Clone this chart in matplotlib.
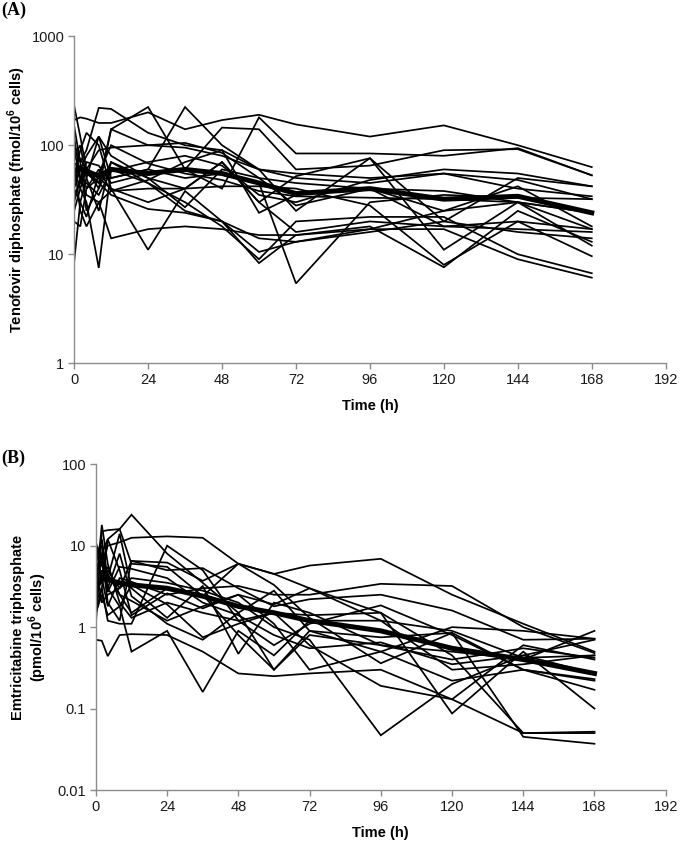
import numpy as np
import matplotlib
matplotlib.use("Agg")
import matplotlib.pyplot as plt

plt.rcParams['font.family'] = ['Liberation Sans', 'DejaVu Sans']
plt.rcParams['mathtext.fontset'] = 'custom'
plt.rcParams['mathtext.rm'] = 'Liberation Sans:bold'
plt.rcParams['mathtext.bf'] = 'Liberation Sans:bold'

# sampling times (h)
times = [0, 2, 4, 8, 12, 24, 36, 48, 60, 72, 96, 120, 144, 168]

# (A) tenofovir diphosphate, fmol/10^6 cells, one list per subject
tfv_subjects = [
    [230, 120, 60, 45, 140, 100, 95, 80, 60, 55, 50, 55, 40, 34],
    [170, 180, 175, 160, 160, 200, 140, 170, 190, 155, 120, 152, 100, 63],
    [8.5, 30, 50, 120, 80, 50, 40, 70, 30, 16, 20, 18, 17, 16],
    [60, 40, 30, 7.5, 60, 45, 25, 20, 14, 13, 16, 20, 16, 14],
    [100, 70, 90, 220, 215, 130, 100, 90, 60, 50, 45, 55, 48, 32],
    [50, 90, 130, 100, 40, 11, 38, 20, 8.3, 15, 18, 7.6, 25, 13],
    [40, 60, 80, 120, 50, 60, 224, 100, 60, 25, 76, 20, 50, 42],
    [30, 50, 60, 40, 140, 224, 60, 40, 180, 84, 84, 80, 94, 53],
    [70, 25, 18, 30, 14, 17, 18, 17, 15, 15, 17, 25, 30, 17],
    [25, 40, 60, 90, 95, 100, 105, 85, 50, 45, 40, 38, 30, 24],
    [20, 18, 40, 50, 40, 30, 40, 70, 30, 52, 76, 11, 30, 12],
    [45, 60, 55, 45, 35, 26, 24, 20, 10.5, 13, 17, 17, 9, 6.1],
    [80, 100, 50, 25, 70, 45, 30, 18, 9, 20, 22, 22, 10, 6.7],
    [55, 65, 40, 60, 38, 40, 40, 42, 42, 40, 28, 8, 20, 9.6],
    [120, 50, 45, 35, 58, 70, 80, 65, 35, 30, 48, 60, 55, 42],
    [65, 75, 60, 50, 50, 60, 50, 55, 45, 5.4, 30, 35, 33, 32],
    [35, 45, 70, 65, 45, 55, 60, 145, 140, 60, 65, 90, 92, 53],
    [90, 50, 35, 30, 38, 48, 70, 90, 24, 35, 40, 25, 42, 18],
    [150, 70, 25, 40, 70, 50, 27, 60, 50, 28, 40, 18, 20, 17],
    [40, 30, 22, 55, 100, 68, 55, 48, 38, 34, 33, 32, 30, 24],
]
tfv_mean = [55, 62, 58, 52, 60, 55, 60, 55, 45, 36, 40, 32, 34, 24]

# (B) emtricitabine triphosphate, pmol/10^6 cells
ftc_subjects = [
    [5, 8, 12, 16, 24, 8, 3.5, 1.5, 0.3, 0.9, 0.5, 0.22, 0.3, 0.23],
    [11, 6, 10, 11, 12.5, 13, 12.5, 6, 4.5, 5.7, 6.9, 2.5, 1.1, 0.5],
    [3, 18, 6, 2, 1.3, 2, 1.5, 1.2, 1.5, 0.6, 0.19, 0.13, 0.6, 0.4],
    [1.5, 3, 1.2, 1.1, 1.1, 10, 5, 1.2, 0.6, 1.1, 1.85, 0.8, 0.3, 0.22],
    [0.7, 0.68, 0.44, 0.8, 0.82, 0.8, 0.5, 0.27, 0.25, 0.27, 0.3, 0.13, 0.05, 0.052],
    [2, 5, 3, 1.8, 0.5, 0.9, 0.16, 0.9, 0.45, 1.2, 1.2, 0.9, 0.42, 0.45],
    [7, 12, 4, 14, 3, 1.3, 3.2, 0.47, 2, 1.5, 0.6, 0.5, 0.4, 0.9],
    [1.1, 15, 15.5, 16, 6, 5.5, 2.4, 6, 4.5, 3, 1.5, 0.087, 0.5, 0.1],
    [4, 3.5, 5, 3, 6.5, 5, 5.3, 3, 1.8, 2.2, 2.5, 1.6, 0.7, 0.72],
    [2.5, 8, 2, 1.2, 6.5, 6.2, 3.7, 6, 3.3, 1.3, 0.36, 0.85, 0.3, 0.17],
    [8, 10, 3, 8, 2.4, 1.1, 0.7, 1.5, 2.8, 0.9, 0.75, 0.85, 0.045, 0.037],
    [3, 4, 1.8, 4, 3.6, 2.5, 3, 3.2, 2.5, 2.5, 3.4, 3.2, 1.0, 0.48],
    [6, 2, 2.5, 3, 4, 3.5, 2.8, 2, 1.0, 0.7, 0.047, 0.2, 0.45, 0.7],
    [1.5, 2.5, 1.4, 1.8, 3.3, 1.9, 0.75, 1.1, 1.5, 1.4, 1.5, 0.45, 0.05, 0.05],
    [5, 7, 4.5, 2.5, 2.1, 1.2, 1.8, 2.5, 1.1, 0.3, 0.5, 1.0, 0.9, 0.72],
    [9, 4, 5.5, 2.5, 1.5, 3, 2.5, 0.8, 0.3, 0.8, 0.6, 0.4, 0.55, 0.42],
    [4.5, 6, 2.7, 5.5, 5.2, 4, 2, 1.4, 0.8, 0.55, 0.65, 0.35, 0.45, 0.27],
    [2, 3, 12, 5, 1.4, 2.6, 1.7, 2.5, 1.9, 3.0, 1.2, 0.3, 0.35, 0.45],
]
ftc_mean = [3.0, 4.0, 3.8, 3.5, 3.3, 3.0, 2.4, 1.8, 1.5, 1.2, 0.9, 0.55, 0.4, 0.27]

xticks = [0, 24, 48, 72, 96, 120, 144, 168, 192]
yticks_a = [1, 10, 100, 1000]
yticks_b = [0.01, 0.1, 1, 10, 100]

grey = '#8c8c8c'


def style_axis(ax, yticks, ylim):
    ax.set_yscale('log')
    ax.set_xlim(0, 192)
    ax.set_ylim(*ylim)
    ax.set_xticks(xticks)
    ax.set_xticklabels([str(t) for t in xticks])
    ax.set_yticks(yticks)
    ax.set_yticklabels([('%g' % v) for v in yticks])
    ax.yaxis.set_minor_locator(matplotlib.ticker.NullLocator())
    for side in ('top', 'right'):
        ax.spines[side].set_visible(False)
    for side in ('left', 'bottom'):
        ax.spines[side].set_color(grey)
        ax.spines[side].set_linewidth(1.0)
    ax.tick_params(direction='out', length=4, width=1.0, color=grey,
                   labelsize=10.5, labelcolor='#1a1a1a', pad=3)


fig = plt.figure(figsize=(6.8, 8.41), dpi=100)

ax1 = fig.add_axes([0.109, 0.568, 0.870, 0.389])
for s in tfv_subjects:
    ax1.plot(times, s, color='black', lw=1.25, solid_joinstyle='miter')
ax1.plot(times, tfv_mean, color='black', lw=3.6)
style_axis(ax1, yticks_a, (1, 1000))
ax1.set_ylabel(r'Tenofovir diphosphate (fmol/10$^{6}$ cells)',
               fontsize=10.5, fontweight='bold')
ax1.yaxis.set_label_coords(-0.078, 0.5)
ax1.set_xlabel('Time (h)', fontsize=10.5, fontweight='bold')
ax1.xaxis.set_label_coords(0.5, -0.108)

ax2 = fig.add_axes([0.141, 0.0606, 0.838, 0.3874])
for s in ftc_subjects:
    ax2.plot(times, s, color='black', lw=1.25, solid_joinstyle='miter')
ax2.plot(times, ftc_mean, color='black', lw=3.6)
style_axis(ax2, yticks_b, (0.01, 100))
ax2.set_ylabel('Emtricitabine triphosphate\n' + r'(pmol/10$^{6}$ cells)',
               fontsize=10.5, fontweight='bold', linespacing=1.1)
ax2.yaxis.set_label_coords(-0.082, 0.5)
ax2.set_xlabel('Time (h)', fontsize=10.5, fontweight='bold')
ax2.xaxis.set_label_coords(0.5, -0.11)

fig.text(0.002, 0.998, '(A)', family='Liberation Serif', fontweight='bold',
         fontsize=13, va='top', ha='left')
fig.text(0.002, 0.465, '(B)', family='Liberation Serif', fontweight='bold',
         fontsize=13, va='top', ha='left')

plt.savefig('out.png', dpi=100)
